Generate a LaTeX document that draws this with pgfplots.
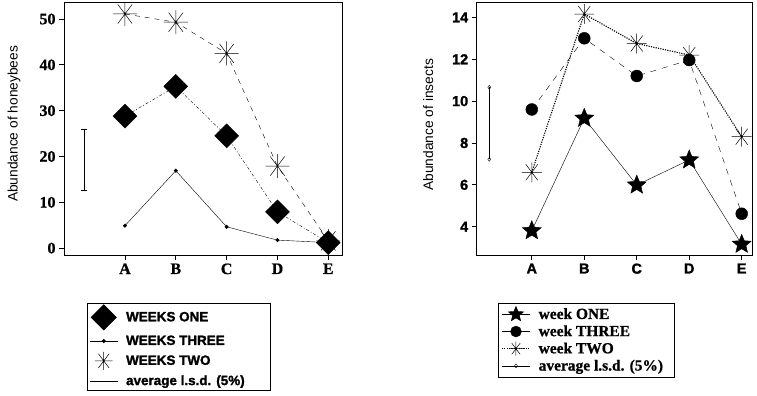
\documentclass[border=0pt]{standalone}
\usepackage{fontspec}
\setmainfont{Liberation Serif}
\setsansfont{Liberation Sans}
\newfontfamily\heavysans[FakeBold=1.5]{Liberation Sans Bold}
\newfontfamily\heavyserif[FakeBold=0.8]{Liberation Serif Bold}
\usepackage{pgfplots}
\pgfplotsset{compat=1.18}
\pgfdeclareplotmark{ast8}{%
  \pgfpathmoveto{\pgfqpoint{0pt}{\pgfplotmarksize}}\pgfpathlineto{\pgfqpoint{0pt}{-\pgfplotmarksize}}%
  \pgfpathmoveto{\pgfqpoint{\pgfplotmarksize}{0pt}}\pgfpathlineto{\pgfqpoint{-\pgfplotmarksize}{0pt}}%
  \pgfpathmoveto{\pgfqpoint{.6\pgfplotmarksize}{.8\pgfplotmarksize}}\pgfpathlineto{\pgfqpoint{-.6\pgfplotmarksize}{-.8\pgfplotmarksize}}%
  \pgfpathmoveto{\pgfqpoint{-.6\pgfplotmarksize}{.8\pgfplotmarksize}}\pgfpathlineto{\pgfqpoint{.6\pgfplotmarksize}{-.8\pgfplotmarksize}}%
  \pgfusepathqstroke}
\pgfdeclareplotmark{fstar}{%
  \pgfpathmoveto{\pgfqpointpolar{90}{\pgfplotmarksize}}%
  \pgfpathlineto{\pgfqpointpolar{126}{.45\pgfplotmarksize}}%
  \pgfpathlineto{\pgfqpointpolar{162}{\pgfplotmarksize}}%
  \pgfpathlineto{\pgfqpointpolar{198}{.45\pgfplotmarksize}}%
  \pgfpathlineto{\pgfqpointpolar{234}{\pgfplotmarksize}}%
  \pgfpathlineto{\pgfqpointpolar{270}{.45\pgfplotmarksize}}%
  \pgfpathlineto{\pgfqpointpolar{306}{\pgfplotmarksize}}%
  \pgfpathlineto{\pgfqpointpolar{342}{.45\pgfplotmarksize}}%
  \pgfpathlineto{\pgfqpointpolar{18}{\pgfplotmarksize}}%
  \pgfpathlineto{\pgfqpointpolar{54}{.45\pgfplotmarksize}}%
  \pgfpathclose
  \pgfusepathqfillstroke}
\pgfplotsset{
  common/.style={
    scale only axis, anchor=south west,
    axis line style={line width=1pt},
    tick align=outside, major tick length=5bp,
    tick style={line width=0.8pt, black},
    xtick pos=bottom, ytick pos=left,
    xtick={1,2,3,4,5}, xticklabels={A,B,C,D,E},
    legend cell align=left,
    legend image code/.code={\draw[mark repeat=2,mark phase=2,##1] plot coordinates {(0cm,0cm) (0.5cm,0cm) (1cm,0cm)};},
  },
}
\begin{document}
\begin{tikzpicture}
\useasboundingbox (0,0) rectangle (757bp,396bp);
% ---------------- left chart
\begin{axis}[common,
  at={(64bp,141bp)}, width=278bp, height=252bp,
  xmin=-0.2, xmax=5.27, ymin=-1.5, ymax=53.5,
  ytick={0,10,20,30,40,50}, yticklabels={0,10,20,30,40,50},
  ticklabel style={font=\heavyserif\fontsize{16}{17}\selectfont},
  ylabel={Abundance of honeybees},
  ylabel style={at={(axis description cs:-0.18,0.52)}, anchor=center, font=\sffamily\fontsize{13.8}{15}\selectfont},
  legend style={at={(axis description cs:0.083,-0.19)}, anchor=north west, draw=black, line width=0.6pt,
    font=\heavysans\fontsize{13.5}{15}\selectfont, row sep=3.5bp, inner xsep=2bp, inner ysep=1.5bp},
]
\addplot[black, thin, dash pattern=on 3pt off 2pt on 1pt off 2pt, mark=square*, mark options={rotate=45, solid}, mark size=8.5, forget plot]
  coordinates {(1,28.8)(2,35.3)(3,24.5)(4,7.9)(5,1.2)};
\addplot[black, thin, mark=*, mark size=1.8, forget plot]
  coordinates {(1,4.9)(2,16.9)(3,4.65)(4,1.75)(5,1.2)};
\addplot[black, thin, dash pattern=on 5pt off 5pt, mark=ast8, mark options={solid, line width=0.5pt}, mark size=12, forget plot]
  coordinates {(1,51.1)(2,49.3)(3,42.5)(4,17.9)(5,1.6)};
\addplot[black, thin, mark=-, mark size=3, forget plot]
  coordinates {(0.2,12.7)(0.2,26)};
\addlegendimage{black, only marks, mark=square*, mark options={rotate=45}, mark size=9}
\addlegendentry{\hspace*{6bp}WEEKS ONE}
\addlegendimage{black, thin, mark=*, mark size=1.8}
\addlegendentry{\hspace*{6bp}WEEKS THREE}
\addlegendimage{black, only marks, mark=ast8, mark options={line width=0.5pt}, mark size=9}
\addlegendentry{\hspace*{6bp}WEEKS TWO}
\addlegendimage{black, thin}
\addlegendentry{\hspace*{6bp}average l.s.d. (5\%)\hspace*{22bp}}
\end{axis}
% ---------------- right chart
\begin{axis}[common,
  at={(476.7bp,141bp)}, width=276bp, height=252.3bp,
  xmin=-0.05, xmax=5.21, ymin=2.65, ymax=14.7,
  ytick={4,6,8,10,12,14}, yticklabels={4,6,8,10,12,14},
  ticklabel style={font=\heavysans\fontsize{14.5}{15}\selectfont},
  ylabel={Abundance of insects},
  ylabel style={at={(axis description cs:-0.176,0.516)}, anchor=center, font=\sffamily\fontsize{13.8}{15}\selectfont},
  legend style={at={(axis description cs:0.077,-0.19)}, anchor=north west, draw=black, line width=0.6pt,
    font=\heavyserif\fontsize{15.5}{16}\selectfont, row sep=1bp, inner xsep=3bp, inner ysep=3bp},
]
\addplot[black, thin, mark=fstar, mark options={fill=black, solid}, mark size=10, forget plot]
  coordinates {(1,3.81)(2,9.18)(3,5.99)(4,7.19)(5,3.16)};
\addplot[black, thin, dash pattern=on 6pt off 6pt, mark=*, mark options={solid}, mark size=6, forget plot]
  coordinates {(1,9.6)(2,13.0)(3,11.2)(4,11.96)(5,4.62)};
\addplot[black, line width=1.1pt, dash pattern=on 1.2pt off 1.2pt, mark=ast8, mark options={solid, line width=0.5pt}, mark size=10, forget plot]
  coordinates {(1,6.6)(2,14.16)(3,12.75)(4,12.2)(5,8.3)};
\addplot[black, thin, mark=diamond, mark size=2, forget plot]
  coordinates {(0.19,7.22)(0.19,10.66)};
\addlegendimage{black, thin, mark=fstar, mark options={fill=black}, mark size=8}
\addlegendentry{\hspace*{6bp}week ONE}
\addlegendimage{black, thin, mark=*, mark size=5.5}
\addlegendentry{\hspace*{6bp}week THREE}
\addlegendimage{black, line width=1.1pt, dash pattern=on 1.2pt off 1.2pt, mark=ast8, mark options={solid, line width=0.5pt}, mark size=7}
\addlegendentry{\hspace*{6bp}week TWO}
\addlegendimage{black, thin, mark=diamond, mark size=2}
\addlegendentry{\hspace*{6bp}average l.s.d. (5\%)\hspace*{6bp}}
\end{axis}
\end{tikzpicture}
\end{document}
